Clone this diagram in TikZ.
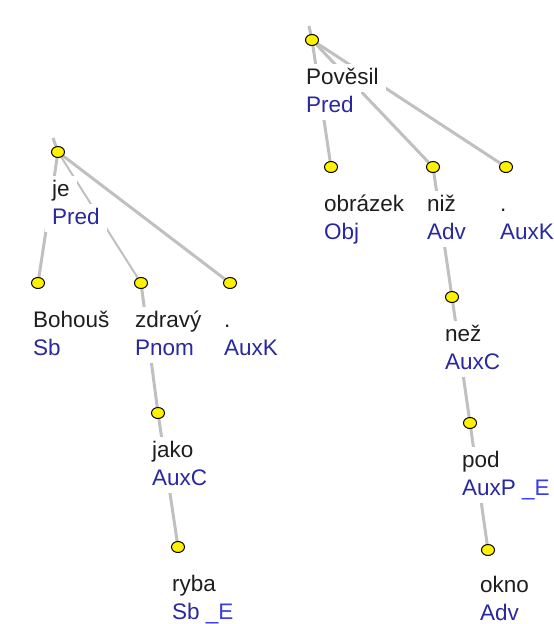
\documentclass[tikz,border=0pt]{standalone}
\usepackage{fontspec}
\setmainfont{Liberation Sans}
\usetikzlibrary{shapes.geometric,backgrounds}

\definecolor{edgegray}{RGB}{192,192,192}
\definecolor{wordcol}{RGB}{30,30,30}
\definecolor{funccol}{RGB}{40,40,160}
\definecolor{extcol}{RGB}{60,60,230}

\tikzset{
  dot/.style={ellipse,draw=black,line width=1pt,fill=yellow,minimum width=13pt,minimum height=11pt,inner sep=0pt},
  edge/.style={draw=edgegray,line width=3pt},
  thinedge/.style={edge,line width=2pt},
  word/.style={anchor=base west,fill=white,inner xsep=7pt,inner ysep=3pt,text height=17pt,text depth=5pt,
    text=wordcol,font=\fontsize{22.5}{26}\selectfont},
  func/.style={word,text=funccol},
  lastline/.style={text depth=0pt,inner ysep=1pt}
}

\begin{document}
\begin{tikzpicture}[x=1pt,y=-1pt]
\useasboundingbox (0,0) rectangle (554,624);

% Left tree
\coordinate (jeroot) at (53,138);
\node[dot] (je) at (58,152) {};
\node[dot] (bohous) at (38,283) {};
\node[dot] (zdravy) at (141,283) {};
\node[dot] (auxkL) at (230,283) {};
\node[dot] (jako) at (158,413) {};
\node[dot] (ryba) at (178,547) {};

% Right tree
\coordinate (povesilroot) at (309,26);
\node[dot] (povesil) at (312,40) {};
\node[dot] (obrazek) at (331,167) {};
\node[dot] (niz) at (433,167) {};
\node[dot] (auxkR) at (506,167) {};
\node[dot] (nez) at (452,297) {};
\node[dot] (pod) at (470,423) {};
\node[dot] (okno) at (488,550) {};

% Labels of the left tree
\node[word] (je-w) at (45,196) {je};
\node[func] (je-f) at (45,224) {Pred};
\node[word] (bohous-w) at (26,327) {Bohouš};
\node[func] (bohous-f) at (26,355) {Sb};
\node[word] (zdravy-w) at (128,327) {zdravý};
\node[func] (zdravy-f) at (128,355) {Pnom};
\node[word] (auxkL-w) at (217,327) {.};
\node[func] (auxkL-f) at (217,355) {AuxK};
\node[word] (jako-w) at (145,457) {jako};
\node[func] (jako-f) at (145,485) {AuxC};
\node[word] (ryba-w) at (165,591) {ryba};
\node[func,lastline] (ryba-f) at (165,619) {Sb \textcolor{extcol}{\_E}};

% Labels of the right tree
\node[word] (povesil-w) at (299,84) {Pověsil};
\node[func] (povesil-f) at (299,112) {Pred};
\node[word] (obrazek-w) at (317,211) {obrázek};
\node[func] (obrazek-f) at (317,239) {Obj};
\node[word] (niz-w) at (420,211) {niž};
\node[func] (niz-f) at (420,239) {Adv};
\node[word] (auxkR-w) at (493,211) {.};
\node[func] (auxkR-f) at (493,239) {AuxK};
\node[word] (nez-w) at (438,341) {než};
\node[func] (nez-f) at (438,369) {AuxC};
\node[word] (pod-w) at (455,467) {pod};
\node[func] (pod-f) at (455,495) {AuxP \textcolor{extcol}{\_E}};
\node[word] (okno-w) at (473,592) {okno};
\node[func,lastline] (okno-f) at (473,620) {Adv};

% Edges, behind the labels
\begin{scope}[on background layer]
\draw[edge] (jeroot) -- (je);
\draw[edge] (je) -- (bohous);
\draw[thinedge] (je) -- (zdravy);
\draw[edge] (je) -- (auxkL);
\draw[edge] (zdravy) -- (jako);
\draw[edge] (jako) -- (ryba);
\draw[edge] (povesilroot) -- (povesil);
\draw[edge] (povesil) -- (obrazek);
\draw[edge] (povesil) -- (niz);
\draw[edge] (povesil) -- (auxkR);
\draw[edge] (niz) -- (nez);
\draw[edge] (nez) -- (pod);
\draw[edge] (pod) -- (okno);
\end{scope}

\end{tikzpicture}
\end{document}
